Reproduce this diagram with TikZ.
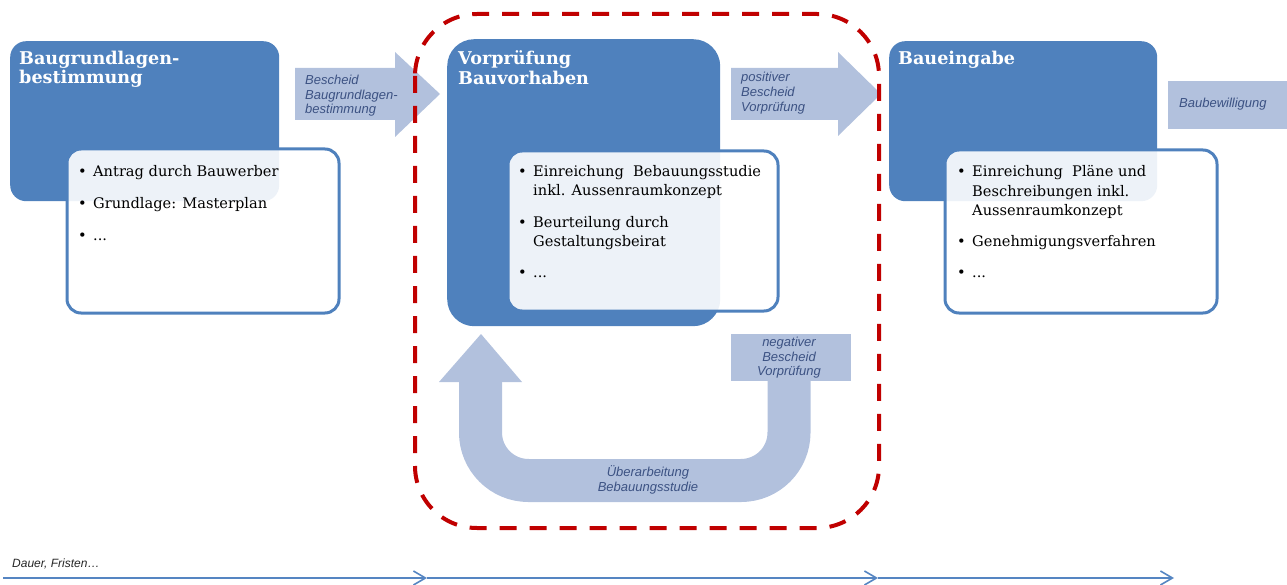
\documentclass[tikz,border=0pt]{standalone}
\usepackage{fontspec}
\setmainfont{DejaVu Serif}
\newfontfamily\arialfont{Liberation Sans}
\usetikzlibrary{arrows.meta}
\definecolor{dkblue}{HTML}{4F81BD}
\definecolor{ltblue}{HTML}{B2C1DD}
\definecolor{arrtext}{HTML}{3C5283}
\definecolor{dashred}{HTML}{C00000}
\definecolor{tlblue}{HTML}{5585C2}
\begin{document}
\begin{tikzpicture}[x=1pt,y=-1pt,
  darkbox/.style={fill=dkblue, draw=none, rounded corners=16pt, inner sep=0pt, anchor=north west},
  whitebox/.style={draw=dkblue, line width=3pt, fill=white, fill opacity=0.9, rounded corners=14pt, inner sep=0pt, anchor=north west},
  title/.style={text=white, font=\fontsize{17.6}{20}\selectfont\bfseries, anchor=base west, inner sep=0pt},
  btext/.style={font=\fontsize{14.6}{19}\selectfont, anchor=base west, inner sep=0pt},
  atext/.style={text=arrtext, font=\arialfont\itshape\fontsize{13}{14.5}\selectfont, anchor=base west, inner sep=0pt},
  ctext/.style={text=arrtext, font=\arialfont\itshape\fontsize{13}{14.5}\selectfont, anchor=base, inner sep=0pt},
  blockarrow/.style={fill=ltblue, draw=none},
  tl/.style={draw=tlblue, line width=2pt, -{Straight Barb[length=12pt,width=14pt,line width=1.6pt]}}
]
\useasboundingbox (0,0) rectangle (1287,585);

% ---------- block arrows ----------
\fill[blockarrow] (295,68) -- (395,68) -- (395,52) -- (440,94) -- (395,137) -- (395,120) -- (295,120) -- cycle;
\fill[blockarrow] (731,68) -- (838,68) -- (838,52) -- (881,94) -- (838,136) -- (838,120) -- (731,120) -- cycle;
\node[blockarrow, anchor=north west, minimum width=119pt, minimum height=48pt, inner sep=0pt] (bew) at (1168,81) {};
\node[blockarrow, anchor=north west, minimum width=120pt, minimum height=47pt, inner sep=0pt] (neg) at (731,334) {};
% U-turn arrow
\draw[ltblue, line width=43pt, rounded corners=48pt] (789,381) -- (789,480.5) -- (480.5,480.5) -- (480.5,381);
\fill[blockarrow] (439,382) -- (522,382) -- (481,334) -- cycle;

% ---------- boxes ----------
\node[darkbox, minimum width=269pt, minimum height=160pt] (d1) at (10,41) {};
\node[whitebox, minimum width=272pt, minimum height=164pt] (w1) at (65.5,147.5) {};
\node[darkbox, rounded corners=27pt, minimum width=273pt, minimum height=287pt] (d2) at (447,39) {};
\node[whitebox, minimum width=270pt, minimum height=160pt] (w2) at (506.5,149.5) {};
\node[darkbox, minimum width=268pt, minimum height=160pt] (d3) at (889,41) {};
\node[whitebox, minimum width=272pt, minimum height=163pt] (w3) at (943.5,148.5) {};

% ---------- titles ----------
\node[title] (t1a) at (19,65) {Baugrundlagen-};
\node[title] (t1b) at (19,84) {bestimmung};
\node[title] (t2a) at (458,65) {Vorprüfung};
\node[title] (t2b) at (458,85) {Bauvorhaben};
\node[title] (t3a) at (898,65) {Baueingabe};

% ---------- bullets box 1 ----------
\node[btext] (b1p1) at (78,177) {•};
\node[btext] (b1l1) at (93,177) {Antrag durch Bauwerber};
\node[btext] (b1p2) at (78,209) {•};
\node[btext] (b1l2) at (93,209) {Grundlage: Masterplan};
\node[btext] (b1p3) at (78,241) {•};
\node[btext] (b1l3) at (93,241) {...};

% ---------- bullets box 2 ----------
\node[btext] (b2p1) at (518,177) {•};
\node[btext] (b2l1) at (533,177) {Einreichung\ \ Bebauungsstudie};
\node[btext] (b2l1b) at (533,196) {inkl. Aussenraumkonzept};
\node[btext] (b2p2) at (518,228) {•};
\node[btext] (b2l2) at (533,228) {Beurteilung durch};
\node[btext] (b2l2b) at (533,247) {Gestaltungsbeirat};
\node[btext] (b2p3) at (518,278) {•};
\node[btext] (b2l3) at (533,278) {...};

% ---------- bullets box 3 ----------
\node[btext] (b3p1) at (957,177) {•};
\node[btext] (b3l1) at (972,177) {Einreichung\ \ Pläne und};
\node[btext] (b3l1b) at (972,196.5) {Beschreibungen inkl.};
\node[btext] (b3l1c) at (972,215.5) {Aussenraumkonzept};
\node[btext] (b3p2) at (957,247) {•};
\node[btext] (b3l2) at (972,247) {Genehmigungsverfahren};
\node[btext] (b3p3) at (957,278) {•};
\node[btext] (b3l3) at (972,278) {...};

% ---------- arrow texts ----------
\node[atext] (a1a) at (305,85) {Bescheid};
\node[atext] (a1b) at (305,100) {Baugrundlagen-};
\node[atext] (a1c) at (305,114) {bestimmung};
\node[atext] (a2a) at (741,82) {positiver};
\node[atext] (a2b) at (741,97) {Bescheid};
\node[atext] (a2c) at (741,112) {Vorprüfung};
\node[atext] (bewt) at (1179,108) {Baubewilligung};
\node[ctext] (n1) at (789,346) {negativer};
\node[ctext] (n2) at (789,361) {Bescheid};
\node[ctext] (n3) at (789,375) {Vorprüfung};
\node[ctext] (u1) at (648,476) {Überarbeitung};
\node[ctext] (u2) at (648,491) {Bebauungsstudie};

% ---------- red dashed frame ----------
\draw[dashred, line width=4pt, dash pattern=on 17pt off 13pt, rounded corners=62pt] (415,14) rectangle (879,528);

% ---------- timeline ----------
\node[text=black!85, font=\arialfont\itshape\fontsize{12}{14}\selectfont, anchor=base west, inner sep=0pt] (dauer) at (12,567) {Dauer, Fristen\ldots};
\coordinate (tl0) at (3,578);
\coordinate (tl1) at (427,578);
\coordinate (tl2) at (878,578);
\coordinate (tl3) at (1174,578);
\draw[tl] (tl0) -- (tl1);
\draw[tl] (tl1) -- (tl2);
\draw[tl] (tl2) -- (tl3);
\end{tikzpicture}
\end{document}
